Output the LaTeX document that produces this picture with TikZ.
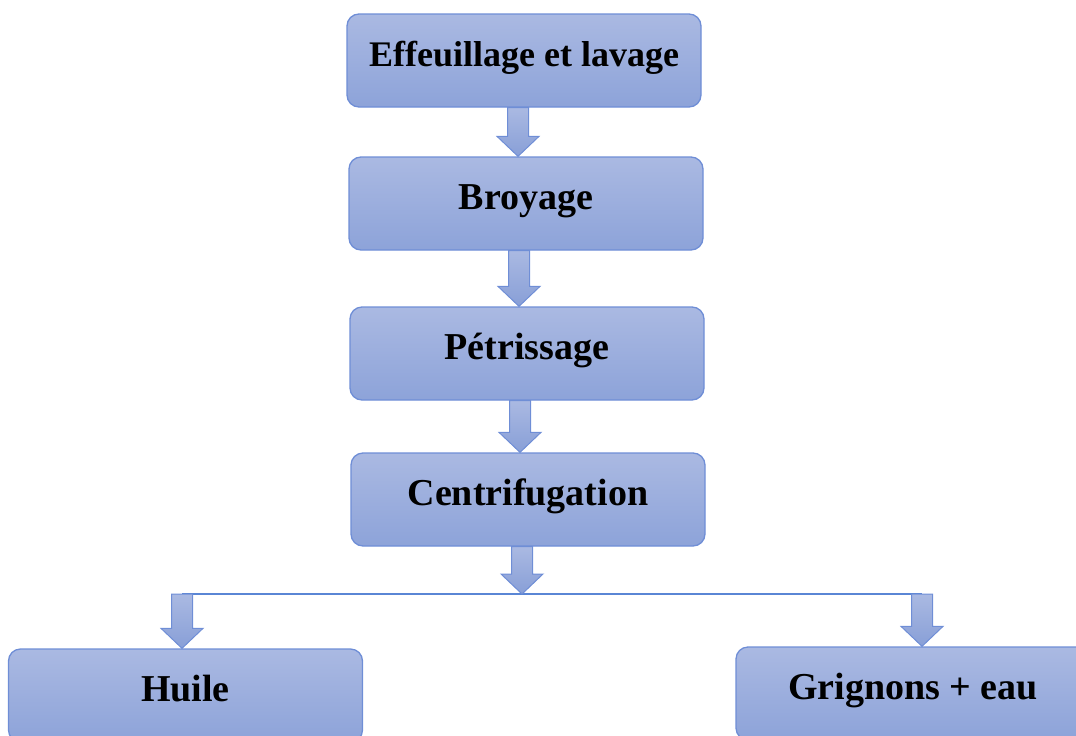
\documentclass[tikz,border=0pt]{standalone}
\usepackage{fontspec}
\setmainfont{Liberation Serif}
\usetikzlibrary{calc}
\definecolor{boxtop}{HTML}{AAB9E2}
\definecolor{boxbot}{HTML}{8DA3D9}
\definecolor{boxedge}{HTML}{6F8ED6}
\definecolor{arrtop}{HTML}{AAB9E2}
\definecolor{arrbot}{HTML}{889FD7}
\definecolor{splitcol}{HTML}{5A86D5}
\begin{document}
\begin{tikzpicture}[x=1pt,y=-1pt,
  stepbox/.style={draw=boxedge, line width=1.3pt, rounded corners=12pt,
    top color=boxtop, bottom color=boxbot,
    minimum width=354pt, minimum height=93pt, inner sep=0pt,
    text height=24pt, text depth=12pt,
    font=\bfseries\fontsize{38}{40}\selectfont},
  blockarrow/.style={draw=boxedge, line width=1pt, line join=miter,
    top color=arrtop, bottom color=arrbot,
    to path={let \p1=(\tikztostart), \p2=(\tikztotarget) in
      (\x1-10.5pt,\y1) -- (\x1+10.5pt,\y1) -- (\x1+10.5pt,\y2+20pt)
      -- (\x1+21pt,\y2+20pt) -- (\x1,\y2) -- (\x1-21pt,\y2+20pt)
      -- (\x1-10.5pt,\y2+20pt) -- cycle}},
  splitline/.style={draw=splitcol, line width=1.6pt}
]
\useasboundingbox (0,0) rectangle (1076,736);
\clip (0,0) rectangle (1076,736);

% process steps
\node[stepbox, font=\bfseries\fontsize{36}{38}\selectfont] (eff) at (524,60.5) {Effeuillage et lavage};
\node[stepbox] (broy) at (526,203.5) {Broyage};
\node[stepbox] (petr) at (527,353.5) {Pétrissage};
\node[stepbox] (cent) at (528,499.5) {Centrifugation};
\node[stepbox] (huile) at (185.5,695.5) {Huile};
\node[stepbox] (grig) at (913,693.5) {Grignons + eau};

% split of the centrifuge output
\coordinate (split) at (522,594);
\coordinate (lt) at (182,594);
\coordinate (rt) at (922,594);
\draw[splitline] (lt) -- (rt);

% block arrows between steps
\draw[blockarrow] ([xshift=-6pt]eff.south) to ([xshift=-6pt]broy.north);
\draw[blockarrow] ([xshift=-7pt]broy.south) to ([xshift=-7pt]petr.north);
\draw[blockarrow] ([xshift=-7pt]petr.south) to ([xshift=-7pt]cent.north);
\draw[blockarrow] ([xshift=-6pt]cent.south) to (split);
\draw[blockarrow] (lt) to (lt |- huile.north);
\draw[blockarrow] (rt) to (rt |- grig.north);
\end{tikzpicture}
\end{document}
